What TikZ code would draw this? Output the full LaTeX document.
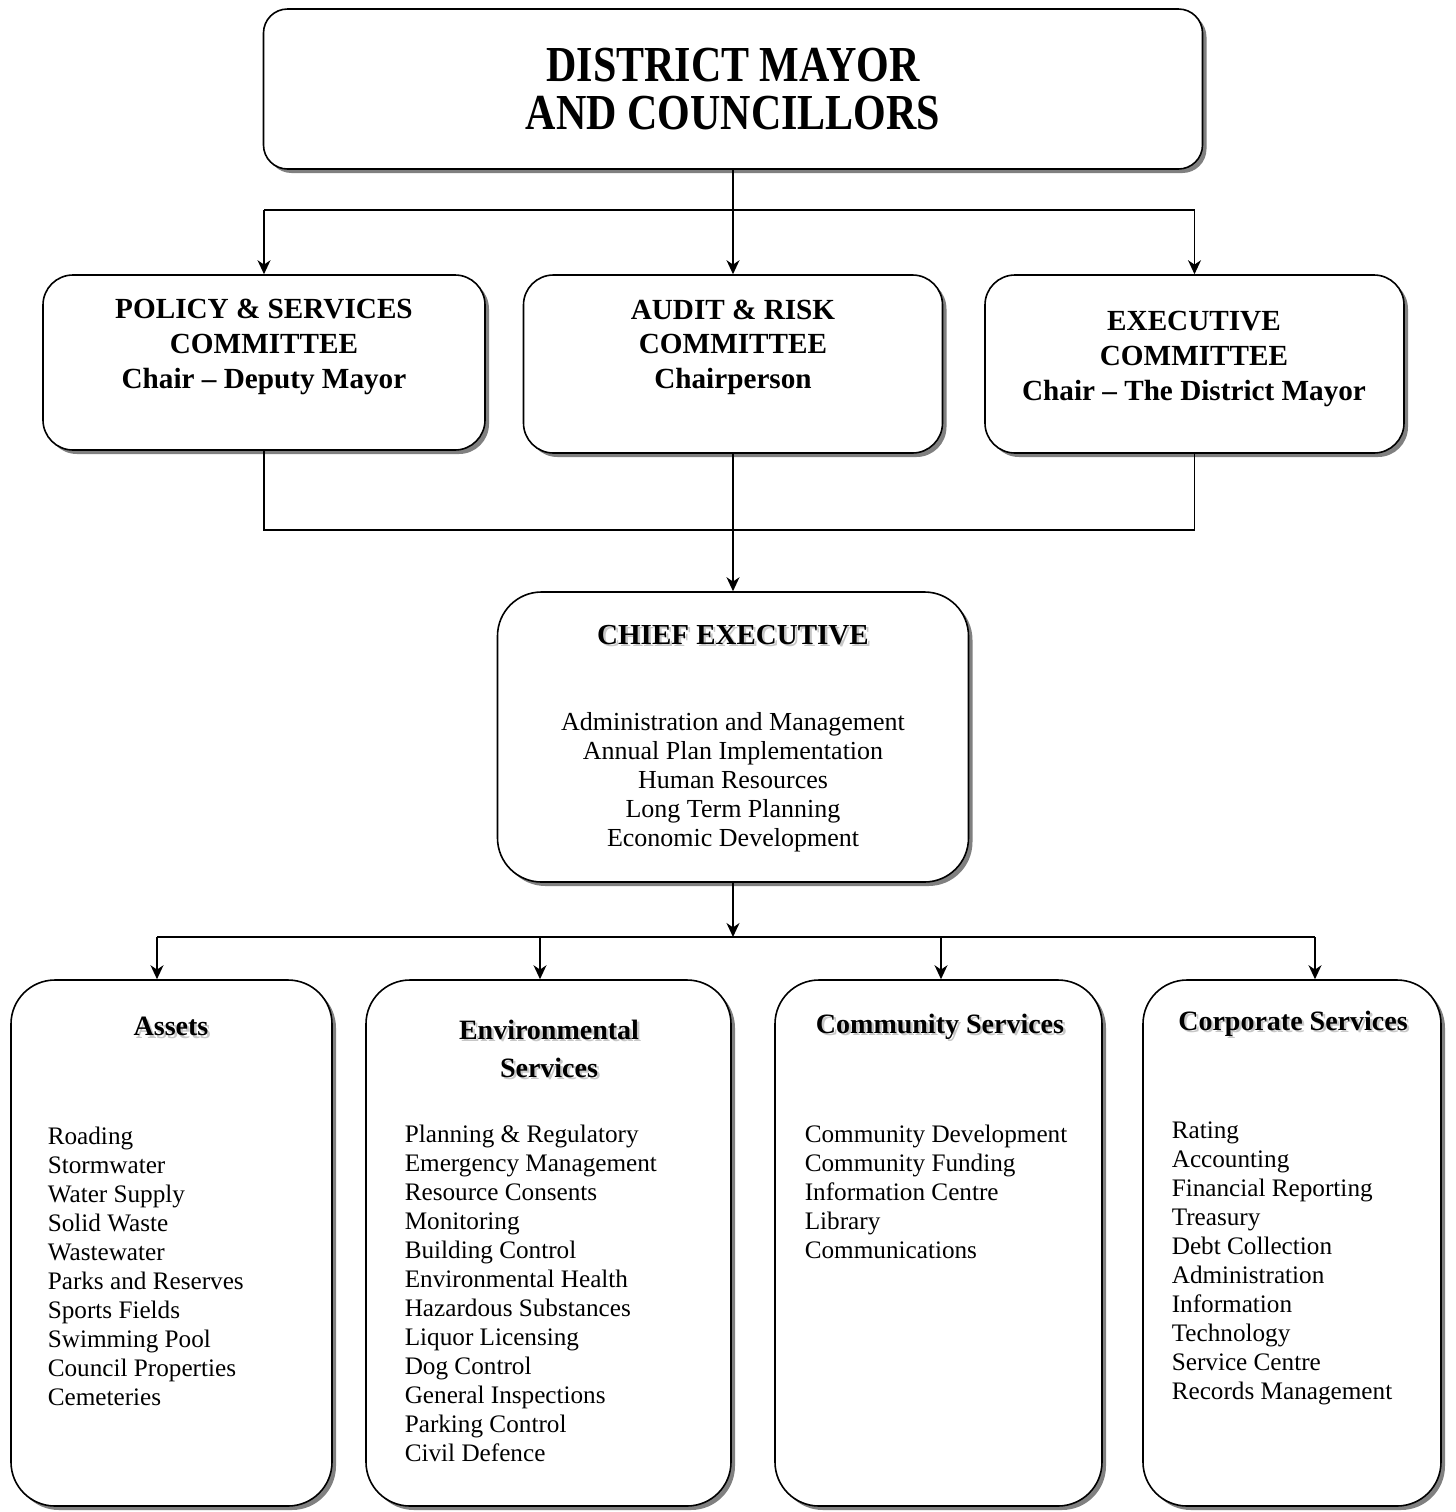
\documentclass[tikz,border=0pt]{standalone}
\usepackage{fontspec}
\setmainfont{Liberation Serif}
\usetikzlibrary{arrows.meta,shadows}

\newcommand{\shadowed}[1]{\makebox[0pt][l]{\hspace{1.2pt}\raisebox{-1.2pt}{\textcolor{black!22}{#1}}}#1}

\begin{document}
\begin{tikzpicture}[x=0.5pt,y=-0.5pt,>={Stealth[length=7pt,width=6.5pt,inset=2.2pt]},thick]
  \tikzstyle{box}=[draw,fill=white,inner sep=0pt,drop shadow={shadow xshift=2pt,shadow yshift=-2pt,fill=black!50,opacity=1}]
  \tikzstyle{committee}=[inner sep=0pt,align=center,font=\fontsize{14.6}{17.3}\selectfont\bfseries]
  \tikzstyle{title}=[inner sep=0pt,align=center,font=\fontsize{14}{19}\selectfont\bfseries]
  \tikzstyle{duties}=[inner sep=0pt,align=left,anchor=north west,font=\fontsize{12.6}{14.5}\selectfont]

  \useasboundingbox (0,0) rectangle (1456,1512);

  % council
  \node[box,rounded corners=12pt,minimum width=469.5pt,minimum height=80pt,align=center,
        font=\fontsize{21}{24}\selectfont\bfseries] (mayor) at (733,89)
        {\scalebox{1}[1.2]{DISTRICT MAYOR}\\\scalebox{1}[1.2]{AND COUNCILLORS}};

  % committees
  \node[box,rounded corners=15pt,minimum width=221pt,minimum height=87.5pt] (policy) at (264,362.5) {};
  \node[box,rounded corners=15pt,minimum width=209.5pt,minimum height=89pt] (audit) at (733,364) {};
  \node[box,rounded corners=15pt,minimum width=209.5pt,minimum height=89pt] (exec) at (1194.5,364) {};
  \node[committee] (policyT) at (264,347) {POLICY \& SERVICES\\COMMITTEE\\Chair -- Deputy Mayor};
  \node[committee] (auditT) at (733,347) {AUDIT \& RISK\\COMMITTEE\\Chairperson};
  \node[committee] (execT) at (1194,359) {EXECUTIVE\\COMMITTEE\\Chair -- The District Mayor};

  % chief executive
  \node[box,rounded corners=22pt,minimum width=235.5pt,minimum height=145pt] (chief) at (733,737) {};
  \node[title,font=\fontsize{14.5}{17}\selectfont\bfseries] (chiefT) at (733,636) {\shadowed{CHIEF EXECUTIVE}};
  \node[duties,anchor=center,align=center,font=\fontsize{13}{14.5}\selectfont] (chiefL) at (733,782)
        {Administration and Management\\Annual Plan Implementation\\Human Resources\\Long Term Planning\\Economic Development};

  % departments
  \node[box,rounded corners=22pt,minimum width=160.5pt,minimum height=263pt] (assets) at (171.5,1243) {};
  \node[box,rounded corners=22pt,minimum width=182.5pt,minimum height=263pt] (environ) at (548.5,1243) {};
  \node[box,rounded corners=22pt,minimum width=163.5pt,minimum height=263pt] (community) at (938.5,1243) {};
  \node[box,rounded corners=22pt,minimum width=149pt,minimum height=263pt] (corporate) at (1292,1243) {};

  \node[title] (assetsT) at (171,1028) {\shadowed{Assets}};
  \node[title] (environT) at (549,1050) {\shadowed{Environmental}\\\shadowed{Services}};
  \node[title] (communityT) at (940,1028) {\shadowed{Community Services}};
  \node[title] (corporateT) at (1293,1025) {\shadowed{Corporate Services}};

  \node[duties] (assetsL) at (47,1126) {Roading\\Stormwater\\Water Supply\\Solid Waste\\Wastewater\\Parks and Reserves\\Sports Fields\\Swimming Pool\\Council Properties\\Cemeteries};
  \node[duties] (environL) at (404,1124) {Planning \& Regulatory\\Emergency Management\\Resource Consents\\Monitoring\\Building Control\\Environmental Health\\Hazardous Substances\\Liquor Licensing\\Dog Control\\General Inspections\\Parking Control\\Civil Defence};
  \node[duties] (communityL) at (804,1124) {Community Development\\Community Funding\\Information Centre\\Library\\Communications};
  \node[duties] (corporateL) at (1171,1121) {Rating\\Accounting\\Financial Reporting\\Treasury\\Debt Collection\\Administration\\Information\\Technology\\Service Centre\\Records Management};

  % connectors
  \coordinate (topbus) at (733,210);
  \coordinate (midbus) at (733,530);
  \coordinate (lowbus) at (733,937);
  \coordinate (d1) at (157,937);
  \coordinate (d2) at (540,937);
  \coordinate (d3) at (941,937);
  \coordinate (d4) at (1315,937);

  \draw (mayor) -- (topbus);
  \draw (policy.north |- topbus) -- (exec.north |- topbus);
  \path[->] (policy.north |- topbus) edge (policy.north)
            (topbus) edge (audit.north)
            (exec.north |- topbus) edge (exec.north);

  \draw (policy) -- (policy.south |- midbus) -- (exec.south |- midbus) -- (exec);
  \draw[->] (audit) -- (chief);

  \draw[->] (chief) -- (lowbus);
  \draw (d1) -- (d4);
  \foreach \d/\b in {d1/assets,d2/environ,d3/community,d4/corporate}
    \draw[->] (\d) -- (\d |- \b.north);
\end{tikzpicture}
\end{document}
